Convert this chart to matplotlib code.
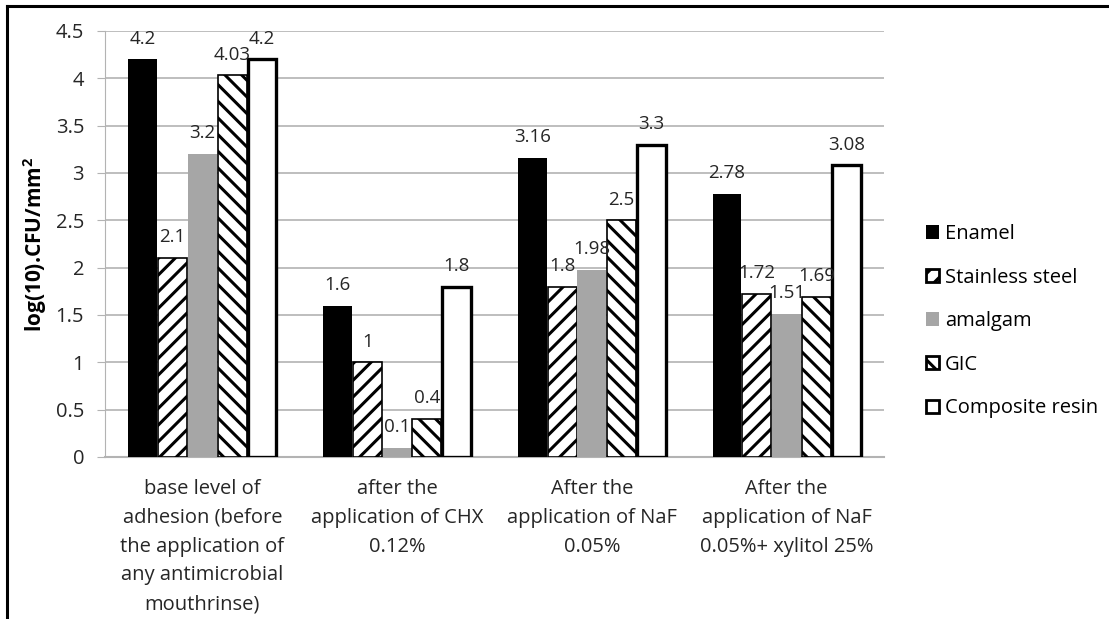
import matplotlib
matplotlib.use("Agg")
import matplotlib.pyplot as plt
import numpy as np
from matplotlib.patches import Patch
from matplotlib.lines import Line2D

plt.rcParams["font.family"] = ["Open Sans", "DejaVu Sans"]
plt.rcParams["mathtext.fontset"] = "custom"
plt.rcParams["mathtext.bf"] = "Open Sans:bold"
plt.rcParams["mathtext.rm"] = "Open Sans"
plt.rcParams["hatch.linewidth"] = 2.2

groups = [
    "base level of\nadhesion (before\nthe application of\nany antimicrobial\nmouthrinse)",
    "after the\napplication of CHX\n0.12%",
    "After the\napplication of NaF\n0.05%",
    "After the\napplication of NaF\n0.05%+ xylitol 25%",
]
series = ["Enamel", "Stainless steel", "amalgam", "GIC", "Composite resin"]
enamel = [4.2, 1.6, 3.16, 2.78]
stainless = [2.1, 1.0, 1.8, 1.72]
amalgam = [3.2, 0.1, 1.98, 1.51]
gic = [4.03, 0.4, 2.5, 1.69]
composite = [4.2, 1.8, 3.3, 3.08]
values = [enamel, stainless, amalgam, gic, composite]
value_labels = [
    ["4.2", "1.6", "3.16", "2.78"],
    ["2.1", "1", "1.8", "1.72"],
    ["3.2", "0.1", "1.98", "1.51"],
    ["4.03", "0.4", "2.5", "1.69"],
    ["4.2", "1.8", "3.3", "3.08"],
]

styles = [
    dict(color="black", edgecolor="black", linewidth=0),
    dict(color="white", edgecolor="black", hatch="//", linewidth=1.2),
    dict(color="#a6a6a6", edgecolor="#a6a6a6", linewidth=0),
    dict(color="white", edgecolor="black", hatch="\\\\", linewidth=1.2),
    dict(color="white", edgecolor="black", linewidth=2.4),
]

GRID = "#b3b3b3"
TEXT = "#262626"

fig = plt.figure(figsize=(11.09, 6.19), dpi=100)
ax = fig.add_axes([105 / 1109, 1 - 457 / 619, (884 - 105) / 1109, (457 - 31) / 619])

x = np.arange(len(groups))
w = 0.153
for i, (vals, st) in enumerate(zip(values, styles)):
    pos = x + (i - 2) * w
    ax.bar(pos, vals, width=w * 0.97, zorder=3, **st)
    for p, v, lab in zip(pos, vals, value_labels[i]):
        ax.annotate(lab, (p, v), xytext=(0, 15), textcoords="offset points",
                    ha="center", va="center", fontsize=13.5, color=TEXT, zorder=4)

ax.set_xlim(-0.5, 3.5)
ax.set_ylim(0, 4.5)
ax.set_yticks(np.arange(0, 4.51, 0.5))
ax.set_yticklabels(["0", "0.5", "1", "1.5", "2", "2.5", "3", "3.5", "4", "4.5"])
ax.set_xticks(x)
ax.set_xticklabels(groups, fontsize=14.5, color=TEXT, linespacing=1.58)
ax.tick_params(axis="x", length=0, pad=16)
ax.tick_params(axis="y", length=6, color=GRID, labelsize=14.5, labelcolor=TEXT, pad=9)
ax.yaxis.grid(True, color=GRID, linewidth=1.2)
ax.set_axisbelow(True)
for s in ["top", "right"]:
    ax.spines[s].set_visible(False)
ax.spines["left"].set_color(GRID)
ax.spines["bottom"].set_color(GRID)
ax.spines["bottom"].set_linewidth(1.5)
ax.set_ylabel(r"log(10).CFU/mm$^{\mathbf{2}}$", fontsize=15, fontweight="bold",
              color="black", labelpad=5)

handles = [Patch(facecolor=st["color"], edgecolor="black",
                 hatch=st.get("hatch"), linewidth=2 if i in (1, 3, 4) else 0)
           for i, st in enumerate(styles)]
fig.legend(handles, series, loc="upper left", bbox_to_anchor=(918 / 1109, 1 - 216 / 619),
           frameon=False, fontsize=14.5, handlelength=0.65, handleheight=0.65,
           handletextpad=0.3, labelspacing=1.17, borderaxespad=0)

fig.add_artist(Line2D([7 / 1109, 7 / 1109], [0, 1 - 6 / 619], color="black", lw=2.2))
fig.add_artist(Line2D([7 / 1109, 1], [1 - 6 / 619, 1 - 6 / 619], color="black", lw=2.2))

fig.savefig("out.png", dpi=100)
